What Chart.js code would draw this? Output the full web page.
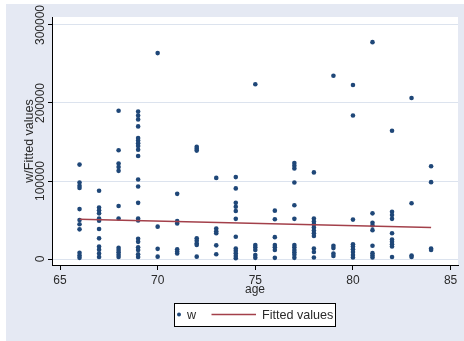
<!DOCTYPE html>
<html>
<head>
<meta charset="utf-8">
<script src="https://cdn.jsdelivr.net/npm/chart.js@4/dist/chart.umd.min.js"></script>
<style>
  html, body { margin: 0; padding: 0; background: #fff; }
  #wrap { width: 464px; height: 341px; }
</style>
</head>
<body>
<div id="wrap"><canvas id="c" width="464" height="341"></canvas></div>
<script>
// Ages observed and the w values recorded at each age
const ageValues = [66, 67, 68, 69, 70, 71, 72, 73, 74, 75, 76, 77, 78, 79, 80, 81, 82, 83, 84];
const wByAge = [
  [121000, 98000, 94000, 91000, 64000, 50000, 44500, 38000, 8000, 4500, 1500],
  [87500, 66000, 62500, 58500, 52000, 49000, 38500, 26500, 16000, 12000, 7000, 2500],
  [190000, 139500, 122500, 118000, 113000, 68000, 52000, 14500, 11500, 8500, 5500, 2500],
  [189000, 184000, 179000, 170000, 155000, 152000, 148500, 145000, 140000, 132000, 102000, 93000, 72000, 52000, 49500, 26000, 22000, 15000, 11500, 6000, 2500],
  [264000, 41500, 13000, 3000],
  [83500, 48500, 45500, 12500, 9500, 7000],
  [144000, 141500, 139000, 26500, 23500, 20000, 18000, 3000],
  [104000, 39000, 35500, 33000, 17500, 6000],
  [105000, 90500, 72000, 67000, 61500, 51500, 28500, 13500, 10500, 7500, 4000, 1000],
  [224000, 18000, 15000, 11500, 5000, 1500],
  [62000, 51000, 28000, 18000, 15000, 11500, 1500],
  [123000, 119500, 116000, 98000, 69000, 51500, 18000, 15000, 11500, 8500, 5500, 1500],
  [111000, 52000, 48000, 44500, 40500, 36500, 33000, 29500, 13500, 9000, 2000],
  [235000, 17000, 14000, 7000, 4000],
  [223000, 184000, 50500, 19000, 16000, 12500, 9000, 5000, 2000],
  [278000, 58500, 46500, 43000, 37000, 17000, 7500, 4500, 2000],
  [164500, 60500, 56500, 51500, 33000, 25000, 22000, 19000, 16000, 2500],
  [206500, 71500, 4500, 2500],
  [119000, 98500, 13500, 11500]
];

// Linear fit of w on age, given by its end points
const fitAge = [66, 84];
const fitW = [51000, 40500];

// Axis ticks and labels
const xTicks = [65, 70, 75, 80, 85];
const yTicks = [0, 100000, 200000, 300000];
const xTitle = 'age';
const yTitle = 'w/Fitted values';
const legendLabels = ['w', 'Fitted values'];

const scatterPoints = [];
ageValues.forEach((a, i) => wByAge[i].forEach(v => scatterPoints.push({ x: a, y: v })));
const fitPoints = fitAge.map((a, i) => ({ x: a, y: fitW[i] }));

const FONT = '"Liberation Sans", Arial, sans-serif';
const NAVY = '#1f4778';
const MAROON = '#a3404a';
const REGION = '#e5e9f3';
const GRID = '#dce3ee';
const INK = '#2a2a2a';

const framePlugin = {
  id: 'frame',
  beforeDraw(chart) {
    const ctx = chart.ctx, a = chart.chartArea;
    ctx.save();
    ctx.fillStyle = '#fff';
    ctx.fillRect(0, 0, chart.width, chart.height);
    ctx.fillStyle = REGION;
    ctx.fillRect(6, 4, chart.width - 6, chart.height - 4);
    ctx.fillStyle = '#fff';
    ctx.fillRect(a.left, a.top, a.right - a.left, a.bottom - a.top);
    ctx.restore();
  },
  afterDraw(chart) {
    const ctx = chart.ctx, a = chart.chartArea;
    const ys = chart.scales.y;
    ctx.save();
    ctx.fillStyle = INK;
    ctx.font = '12px ' + FONT;
    ctx.textBaseline = 'alphabetic';
    ctx.textAlign = 'center';
    // vertical tick labels on the y axis
    yTicks.forEach(v => {
      const py = ys.getPixelForValue(v);
      ctx.save();
      ctx.translate(44, py);
      ctx.rotate(-Math.PI / 2);
      ctx.fillText(String(v), 0, 0);
      ctx.restore();
    });
    // y axis title
    ctx.save();
    ctx.font = '12.5px ' + FONT;
    ctx.translate(33, (a.top + a.bottom) / 2);
    ctx.rotate(-Math.PI / 2);
    ctx.fillText(yTitle, 0, 0);
    ctx.restore();
    // x axis title
    ctx.fillText(xTitle, (a.left + a.right) / 2, 292.5);

    // legend box
    const bx = 174, by = 303, bw = 161, bh = 23, cy = by + bh / 2;
    ctx.fillStyle = '#fff';
    ctx.fillRect(bx, by, bw, bh);
    ctx.strokeStyle = '#000';
    ctx.lineWidth = 1;
    ctx.strokeRect(bx + 0.5, by + 0.5, bw, bh);
    ctx.fillStyle = NAVY;
    ctx.beginPath();
    ctx.arc(179, cy, 2, 0, Math.PI * 2);
    ctx.fill();
    ctx.strokeStyle = MAROON;
    ctx.lineWidth = 1.5;
    ctx.beginPath();
    ctx.moveTo(211.5, cy);
    ctx.lineTo(256, cy);
    ctx.stroke();
    ctx.fillStyle = INK;
    ctx.textAlign = 'left';
    ctx.font = '12.6px ' + FONT;
    ctx.fillText(legendLabels[0], 187, cy + 4.5);
    ctx.fillText(legendLabels[1], 262, cy + 4.5);
    ctx.restore();
  }
};

new Chart(document.getElementById('c'), {
  type: 'scatter',
  data: {
    datasets: [
      {
        label: legendLabels[0],
        data: scatterPoints,
        backgroundColor: NAVY,
        borderColor: NAVY,
        borderWidth: 0,
        pointRadius: 2.3,
        showLine: false,
        order: 1
      },
      {
        label: legendLabels[1],
        data: fitPoints,
        borderColor: MAROON,
        borderWidth: 1.5,
        pointRadius: 0,
        showLine: true,
        fill: false,
        order: 0
      }
    ]
  },
  options: {
    responsive: false,
    devicePixelRatio: 1,
    animation: false,
    layout: { padding: { left: 0, top: 17, right: 6, bottom: 0 } },
    plugins: { legend: { display: false }, tooltip: { enabled: false } },
    scales: {
      x: {
        type: 'linear',
        min: 64.59,
        max: 85.378,
        afterBuildTicks: s => { s.ticks = xTicks.map(v => ({ value: v })); },
        afterFit: s => { s.height = 76; },
        ticks: { color: INK, font: { family: FONT, size: 12 }, padding: 3, maxRotation: 0, callback: v => String(v) },
        grid: { drawOnChartArea: false, tickLength: 5, tickColor: '#000', lineWidth: 1 },
        border: { display: true, color: '#000', width: 1 }
      },
      y: {
        type: 'linear',
        min: -7692,
        max: 310256,
        afterBuildTicks: s => { s.ticks = yTicks.map(v => ({ value: v })); },
        afterFit: s => { s.width = 52; },
        ticks: { display: false },
        grid: { color: GRID, tickColor: '#000', tickLength: 4, lineWidth: 1 },
        border: { display: true, color: '#000', width: 1 }
      }
    }
  },
  plugins: [framePlugin]
});
</script>
</body>
</html>
